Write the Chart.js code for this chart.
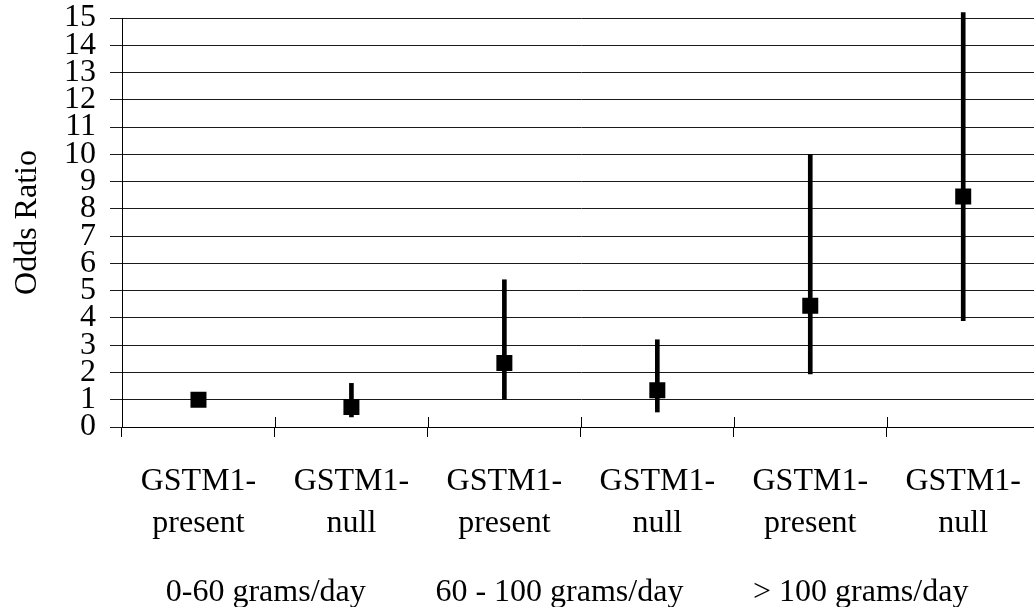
<!DOCTYPE html>
<html>
<head>
<meta charset="utf-8">
<script src="https://cdn.jsdelivr.net/npm/chart.js@4"></script>
<style>
  html, body { margin: 0; padding: 0; background: #fff; overflow: hidden; }
  #wrap { position: relative; width: 1051px; height: 607px; }
</style>
</head>
<body>
<div id="wrap"><canvas id="chart"></canvas></div>
<script>
// genotype per intake band
const categories = [
  ['GSTM1-', 'present'], ['GSTM1-', 'null'],
  ['GSTM1-', 'present'], ['GSTM1-', 'null'],
  ['GSTM1-', 'present'], ['GSTM1-', 'null']
]
const oddsRatio = [1.0, 0.73, 2.35, 1.35, 4.45, 8.45]
const ciLow = [null, 0.37, 1.02, 0.55, 1.95, 3.9]
const ciHigh = [null, 1.6, 5.4, 3.2, 10.0, 15.2]
const groupLabels = ['0-60 grams/day', '60 - 100 grams/day', '> 100 grams/day']
const yTicks = [0, 1, 2, 3, 4, 5, 6, 7, 8, 9, 10, 11, 12, 13, 14, 15]

const serif = 'Liberation Serif, Times New Roman, serif'

const ciRanges = ciLow.map((lo, i) => lo == null ? null : [lo, ciHigh[i]])

// tick marks on the x axis poke a little above the axis line too,
// and the intake bands are written underneath the genotype labels
const bandPlugin = {
  id: 'bands',
  afterDraw(chart) {
    const ctx = chart.ctx
    const x = chart.scales.x
    const area = chart.chartArea
    const step = x.getPixelForValue(1) - x.getPixelForValue(0)
    ctx.save()
    ctx.strokeStyle = '#000'
    ctx.lineWidth = 1
    ctx.beginPath()
    for (let i = 1; i <= categories.length; i++) {
      const px = Math.round(x.getPixelForValue(i) - step / 2) + 0.5
      ctx.moveTo(px, area.bottom - 10)
      ctx.lineTo(px, area.bottom)
    }
    ctx.stroke()

    const spots = [0.44, 2.36, 4.33]
    ctx.fillStyle = '#000'
    ctx.font = '32px ' + serif
    ctx.textAlign = 'center'
    ctx.textBaseline = 'alphabetic'
    groupLabels.forEach((t, i) => {
      ctx.fillText(t, x.getPixelForValue(spots[i]), 601)
    })
    ctx.restore()
  }
}

new Chart(document.getElementById('chart'), {
  type: 'bar',
  data: {
    labels: categories,
    datasets: [
      {
        type: 'line',
        label: 'Odds Ratio',
        data: oddsRatio,
        showLine: false,
        pointStyle: 'rect',
        pointRadius: 11.31,
        pointHoverRadius: 11.31,
        pointBackgroundColor: '#000',
        pointBorderWidth: 0,
        order: 0
      },
      {
        type: 'bar',
        label: '95% CI',
        data: ciRanges,
        backgroundColor: '#000',
        barThickness: 4,
        borderSkipped: false,
        clip: false,
        order: 1
      }
    ]
  },
  options: {
    responsive: true,
    maintainAspectRatio: false,
    animation: false,
    layout: { padding: { top: 18, right: 5, bottom: 0, left: 0 } },
    plugins: {
      legend: { display: false },
      tooltip: { enabled: false }
    },
    scales: {
      x: {
        offset: true,
        afterFit(scale) { scale.height = 180 },
        border: { color: '#000', width: 1 },
        grid: {
          offset: true,
          drawOnChartArea: false,
          color: '#000',
          tickLength: 10
        },
        ticks: {
          color: '#000',
          padding: 24,
          maxRotation: 0,
          autoSkip: false,
          font: { family: serif, size: 32, lineHeight: 1.31 }
        }
      },
      y: {
        min: 0,
        max: 15,
        afterFit(scale) {
          scale.width = 122
          scale.paddingTop = 0
          scale.paddingBottom = 0
        },
        afterBuildTicks(scale) { scale.ticks = yTicks.map(v => ({ value: v })) },
        border: { color: '#000', width: 1 },
        grid: { color: '#1a1a1a', tickLength: 12 },
        ticks: {
          color: '#000',
          padding: 14,
          autoSkip: false,
          font: { family: serif, size: 32, lineHeight: 1 }
        },
        title: {
          display: true,
          text: 'Odds Ratio',
          color: '#000',
          padding: { top: 8, bottom: 0 },
          font: { family: serif, size: 32 }
        }
      }
    }
  },
  plugins: [bandPlugin]
})
</script>
</body>
</html>
